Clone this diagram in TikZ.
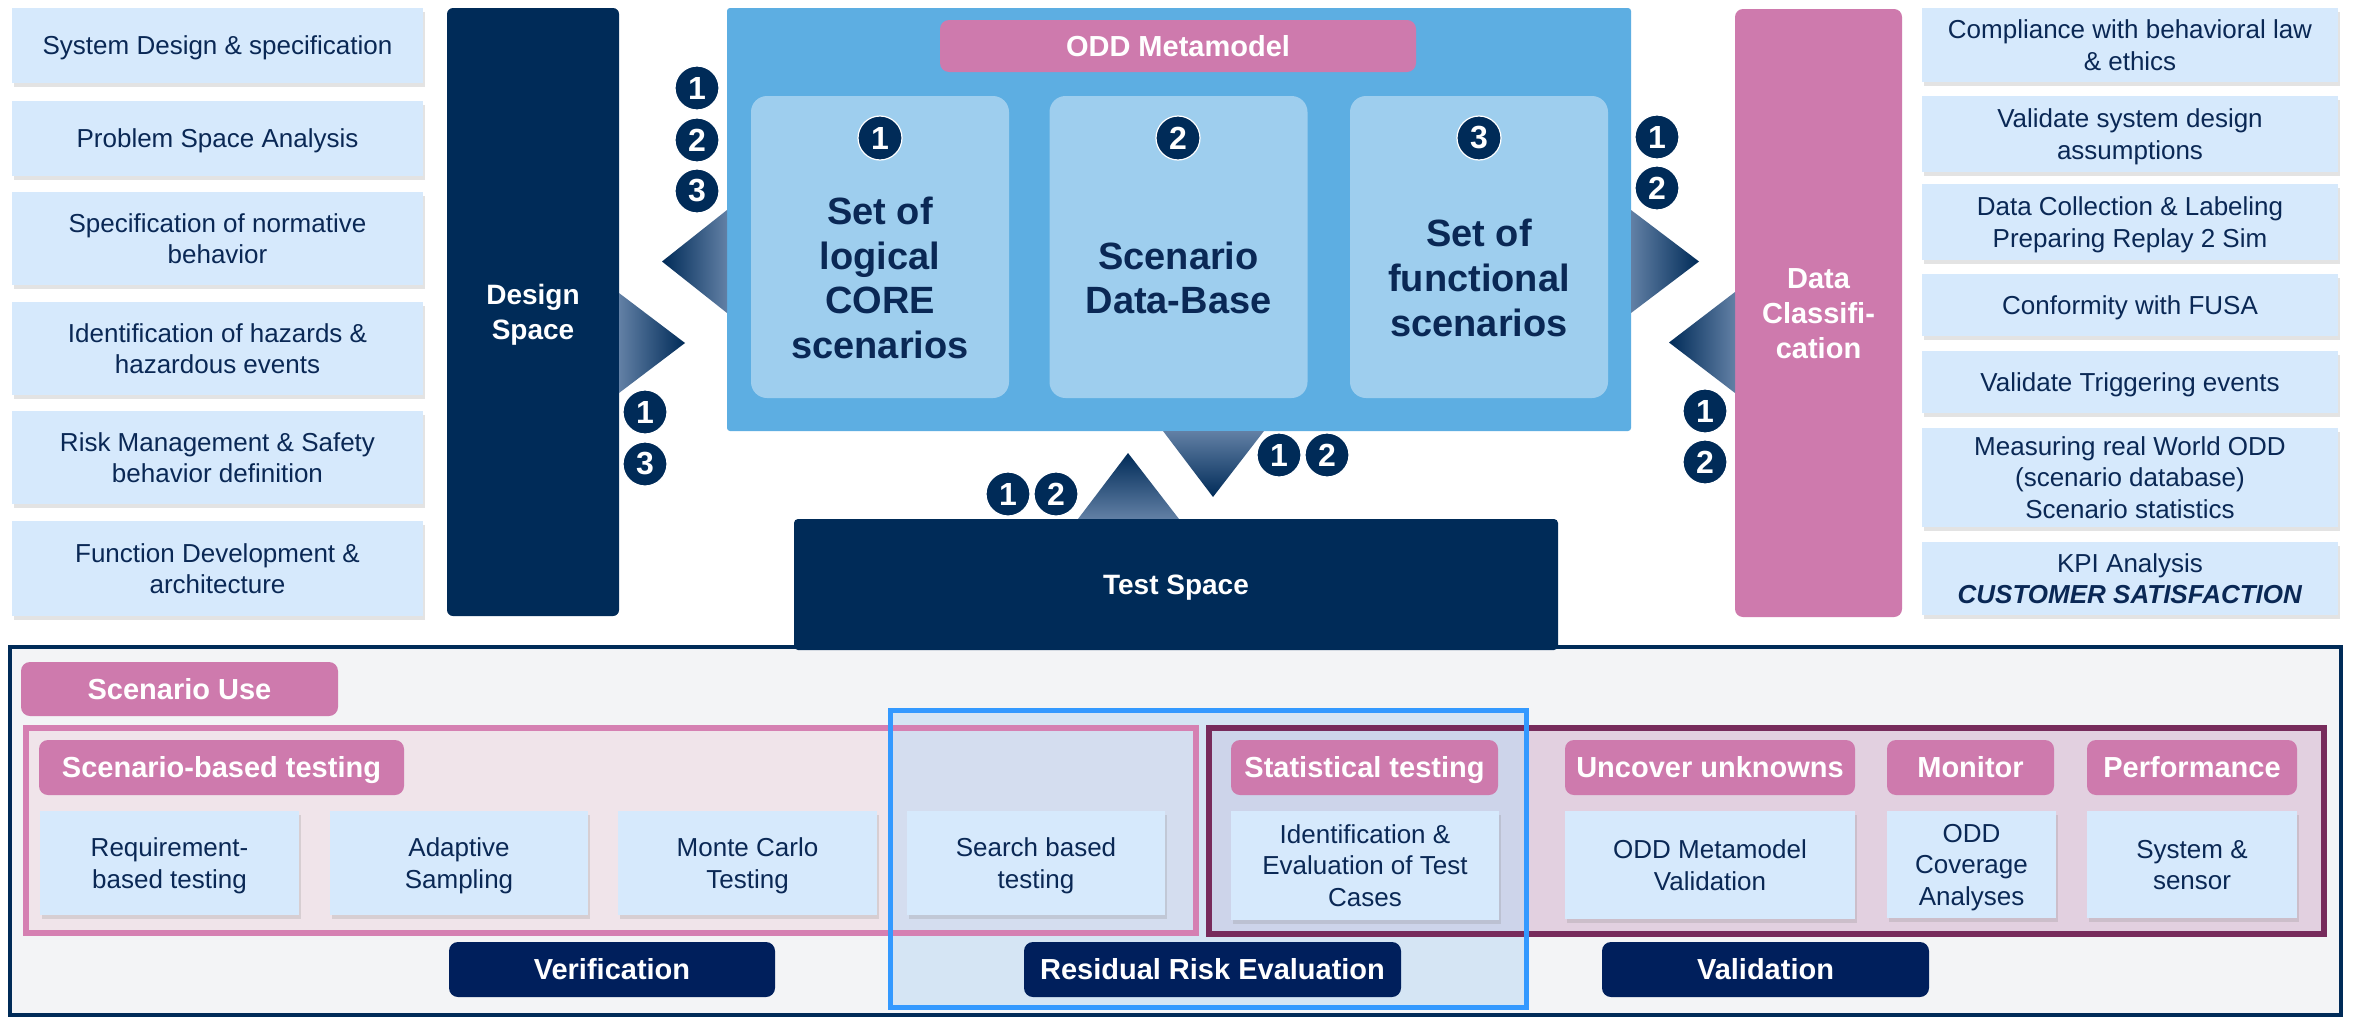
\documentclass[tikz,border=0pt]{standalone}
\usepackage{fontspec}
\setmainfont{Liberation Sans}
\usetikzlibrary{shadows}
\definecolor{navy}{RGB}{0,43,88}
\definecolor{navyb}{RGB}{0,31,92}
\definecolor{pinkc}{RGB}{206,122,173}
\definecolor{cblue}{RGB}{93,174,226}
\definecolor{iblue}{RGB}{158,206,238}
\definecolor{lbox}{RGB}{214,233,252}
\definecolor{txt}{RGB}{10,40,85}
\definecolor{panel}{RGB}{243,244,246}
\definecolor{pframe}{RGB}{213,128,178}
\definecolor{pfill}{RGB}{240,228,234}
\definecolor{vframe}{RGB}{119,43,92}
\definecolor{vfill}{RGB}{226,208,224}
\definecolor{bframe}{RGB}{51,153,255}
\definecolor{bfill}{RGB}{185,216,244}
\definecolor{trilight}{RGB}{98,128,165}
\newcommand{\tx}[1]{\rule{0pt}{0.93em}#1\rule[-0.21em]{0pt}{0pt}}
\begin{document}
\begin{tikzpicture}[x=1pt,y=-1pt,
  every node/.style={inner sep=0pt, outer sep=0pt},
  lbx/.style={fill=lbox, text=txt, align=center, font=\fontsize{26}{31.5}\selectfont,
    drop shadow={shadow xshift=1.5pt, shadow yshift=-4pt, opacity=.22}},
  navcol/.style={fill=navy, rounded corners=6pt, text=white, align=center, font=\bfseries\fontsize{28}{34.5}\selectfont},
  pinkcol/.style={fill=pinkc, rounded corners=8pt, text=white, align=center, font=\bfseries\fontsize{29}{35}\selectfont},
  pinkl/.style={fill=pinkc, rounded corners=9pt, text=white, align=center, font=\bfseries\fontsize{29}{35}\selectfont},
  navl/.style={fill=navyb, rounded corners=9pt, text=white, align=center, font=\bfseries\fontsize{29}{35}\selectfont},
  ibox/.style={fill=iblue, rounded corners=16pt},
  bigtxt/.style={text=txt, align=center, font=\bfseries\fontsize{38}{44.8}\selectfont},
  numc/.style={circle, fill=navy, draw=white, line width=1.2pt, minimum size=44pt, text=white, font=\bfseries\fontsize{32}{32}\selectfont}
]
\useasboundingbox (0,0) rectangle (2354,1017);
\fill[white] (0,0) rectangle (2354,1017);

% ---------- left column ----------
\node[lbx, minimum width=411pt, minimum height=75pt] (l1) at (217.5,45.5) {\tx{System Design \& specification}};
\node[lbx, minimum width=411pt, minimum height=75pt] (l2) at (217.5,138.5) {\tx{Problem Space Analysis}};
\node[lbx, minimum width=411pt, minimum height=93pt] (l3) at (217.5,238.5) {\tx{Specification of normative\\behavior}};
\node[lbx, minimum width=411pt, minimum height=93pt] (l4) at (217.5,348.5) {\tx{Identification of hazards \&\\hazardous events}};
\node[lbx, minimum width=411pt, minimum height=93pt] (l5) at (217.5,457.5) {\tx{Risk Management \& Safety\\behavior definition}};
\node[lbx, minimum width=411pt, minimum height=95pt] (l6) at (217.5,568.5) {\tx{Function Development \&\\architecture}};

% ---------- design space ----------
\node[navcol, minimum width=172pt, minimum height=608pt] (ds) at (533,312) {\tx{Design\\Space}};

% ---------- central block ----------
\node[fill=cblue, rounded corners=3pt, minimum width=904pt, minimum height=423pt] (central) at (1179,219.5) {};
\node[pinkl, minimum width=476pt, minimum height=52pt] (odd) at (1178,46) {\tx{ODD Metamodel}};
\node[ibox, minimum width=258pt, minimum height=302pt] (b1) at (880,247) {};
\node[ibox, minimum width=258pt, minimum height=302pt] (b2) at (1178.5,247) {};
\node[ibox, minimum width=258pt, minimum height=302pt] (b3) at (1479,247) {};
\node[numc] (n1) at (880,138) {1};
\node[numc] (n2) at (1178,138) {2};
\node[numc] (n3) at (1479,138) {3};
\node[bigtxt] (t1) at (880,278) {Set of\\logical\\CORE\\scenarios};
\node[bigtxt] (t2) at (1178.5,278) {Scenario\\Data-Base};
\node[bigtxt] (t3) at (1479,278) {Set of\\functional\\scenarios};

% ---------- data classification ----------
\node[pinkcol, minimum width=167pt, minimum height=608pt] (dc) at (1818.5,313) {\tx{Data\\Classifi-\\cation}};

% ---------- right column ----------
\node[lbx, minimum width=416pt, minimum height=74pt] (r1) at (2130,45) {\tx{Compliance with behavioral law\\\& ethics}};
\node[lbx, minimum width=416pt, minimum height=76pt] (r2) at (2130,134) {\tx{Validate system design\\assumptions}};
\node[lbx, minimum width=416pt, minimum height=76pt] (r3) at (2130,222) {\tx{Data Collection \& Labeling\\Preparing Replay 2 Sim}};
\node[lbx, minimum width=416pt, minimum height=62pt] (r4) at (2130,305) {\tx{Conformity with FUSA}};
\node[lbx, minimum width=416pt, minimum height=62pt] (r5) at (2130,382) {\tx{Validate Triggering events}};
\node[lbx, minimum width=416pt, minimum height=99pt] (r6) at (2130,477.5) {\tx{Measuring real World ODD\\(scenario database)\\Scenario statistics}};
\node[lbx, minimum width=416pt, minimum height=73pt] (r7) at (2130,578.5) {\tx{KPI Analysis\\\textbf{\textit{CUSTOMER SATISFACTION}}}};

% ---------- gradient arrows ----------
\shade[left color=navy, right color=trilight] (727,210) -- (727,313) -- (662,261.5) -- cycle;
\shade[left color=trilight, right color=navy] (619,293) -- (619,393) -- (685,343) -- cycle;
\shade[left color=trilight, right color=navy] (1631,210) -- (1631,313) -- (1699,261.5) -- cycle;
\shade[left color=navy, right color=trilight] (1735,292) -- (1735,393) -- (1669,342.5) -- cycle;
\shade[top color=trilight, bottom color=navy] (1163,431) -- (1264,431) -- (1213,497) -- cycle;
\shade[top color=navy, bottom color=trilight] (1078,519) -- (1179,519) -- (1128,453) -- cycle;

% ---------- number badges ----------
\node[numc] (a1) at (697,88) {1};
\node[numc] (a2) at (697,140) {2};
\node[numc] (a3) at (697,191) {3};
\node[numc] (d1) at (645,412) {1};
\node[numc] (d3) at (645,464) {3};
\node[numc] (e1) at (1657,137) {1};
\node[numc] (e2) at (1657,188) {2};
\node[numc] (f1) at (1705,411) {1};
\node[numc] (f2) at (1705,462) {2};
\node[numc] (g1) at (1279,455) {1};
\node[numc] (g2) at (1327,455) {2};
\node[numc] (h1) at (1008,494) {1};
\node[numc] (h2) at (1056,494) {2};

% ---------- bottom panel ----------
\node[draw=navy, line width=4pt, fill=panel, minimum width=2331pt, minimum height=368pt] (panel) at (1175.5,831) {};
\node[navcol, rounded corners=4pt, minimum width=764pt, minimum height=131pt] (ts) at (1176,584.5) {\tx{Test Space}};

\node[pinkl, minimum width=317pt, minimum height=54pt] (su) at (179.5,689) {\tx{Scenario Use}};

\node[fill=pfill, minimum width=1170pt, minimum height=205pt] (sbt) at (611,830.5) {};
\node[fill=vfill, minimum width=1115pt, minimum height=206pt] (val) at (1766.5,831) {};
\node[fill=bfill, fill opacity=0.5, minimum width=636pt, minimum height=297pt] (rre) at (1208,858.5) {};
\draw[pframe, line width=5.5pt] (sbt.north west) rectangle (sbt.south east);
\draw[vframe, line width=5.5pt] (val.north west) rectangle (val.south east);
\draw[bframe, line width=5pt] (rre.north west) rectangle (rre.south east);

\node[pinkl, minimum width=365pt, minimum height=55pt] (sbtl) at (221.5,767.5) {\tx{Scenario-based testing}};
\node[lbx, minimum width=259pt, minimum height=104pt] (g1b) at (169.5,863) {\tx{Requirement-\\based testing}};
\node[lbx, minimum width=258pt, minimum height=104pt] (g2b) at (459,863) {\tx{Adaptive\\Sampling}};
\node[lbx, minimum width=259pt, minimum height=104pt] (g3b) at (747.5,863) {\tx{Monte Carlo\\Testing}};
\node[lbx, minimum width=258pt, minimum height=104pt] (g4b) at (1036,863) {\tx{Search based\\testing}};

\node[pinkl, minimum width=267pt, minimum height=55pt] (stl) at (1364.5,767.5) {\tx{Statistical testing}};
\node[lbx, minimum width=268pt, minimum height=109pt] (stb) at (1365,865.5) {\tx{Identification \&\\Evaluation of Test\\Cases}};
\node[pinkl, minimum width=290pt, minimum height=55pt] (unl) at (1710,767.5) {\tx{Uncover unknowns}};
\node[lbx, minimum width=290pt, minimum height=108pt] (unb) at (1710,865) {\tx{ODD Metamodel\\Validation}};
\node[pinkl, minimum width=167pt, minimum height=55pt] (mol) at (1970.5,767.5) {\tx{Monitor}};
\node[lbx, minimum width=169pt, minimum height=107pt] (mob) at (1971.5,864.5) {\tx{ODD\\Coverage\\Analyses}};
\node[pinkl, minimum width=210pt, minimum height=55pt] (pel) at (2192,767.5) {\tx{Performance}};
\node[lbx, minimum width=210pt, minimum height=107pt] (peb) at (2192,864.5) {\tx{System \&\\sensor}};

\node[navl, minimum width=326pt, minimum height=55pt] (ver) at (612,969.5) {\tx{Verification}};
\node[navl, minimum width=377pt, minimum height=55pt] (rrl) at (1212.5,969.5) {\tx{Residual Risk Evaluation}};
\node[navl, minimum width=327pt, minimum height=55pt] (vall) at (1765.5,969.5) {\tx{Validation}};
\end{tikzpicture}
\end{document}
